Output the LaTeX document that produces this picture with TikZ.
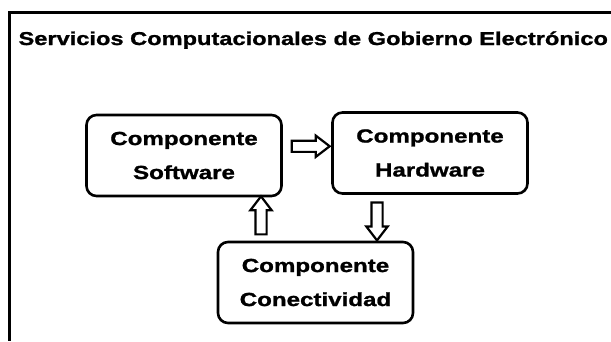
\documentclass[tikz,border=0pt]{standalone}
\usepackage{fontspec}
\setmainfont{Liberation Sans}[FakeStretch=1.27,BoldFeatures={FakeBold=1.2}]
\usetikzlibrary{shapes.arrows}

\begin{document}
\begin{tikzpicture}[x=1pt,y=-1pt,
  every node/.style={font=\bfseries\fontsize{19}{34}\selectfont},
  comp/.style={draw,line width=2.6pt,rounded corners=10pt,minimum width=195pt,minimum height=81pt,align=center,inner sep=0pt},
  blockarrow/.style={draw,single arrow,line width=2.2pt,minimum height=38pt,inner sep=4.5pt,
    single arrow head extend=5pt,single arrow tip angle=75}]
\useasboundingbox (0,0) rectangle (611,341);
\draw[line width=3pt] (611,12) -- (9,12) -- (9,341);
\node[anchor=base west,font=\bfseries\fontsize{18.6}{22}\selectfont] (title) at (15,45) {Servicios Computacionales de Gobierno Electrónico};
\node[comp] (sw) at (184,155.5) {Componente\\Software};
\node[comp] (hw) at (430,153) {Componente\\Hardware};
\node[comp] (cn) at (315.5,282.5) {Componente\\Conectividad};
\path ([yshift=9pt]sw.east) -- ([yshift=7pt]hw.west) node[midway,blockarrow,shape border rotate=0] (swhw) {};
\path (cn.north -| 261,0) -- (sw.south -| 261,0) node[midway,blockarrow,shape border rotate=90] (cnsw) {};
\path (hw.south -| 377,0) -- (cn.north -| 377,0) node[midway,blockarrow,shape border rotate=270] (hwcn) {};
\end{tikzpicture}
\end{document}
